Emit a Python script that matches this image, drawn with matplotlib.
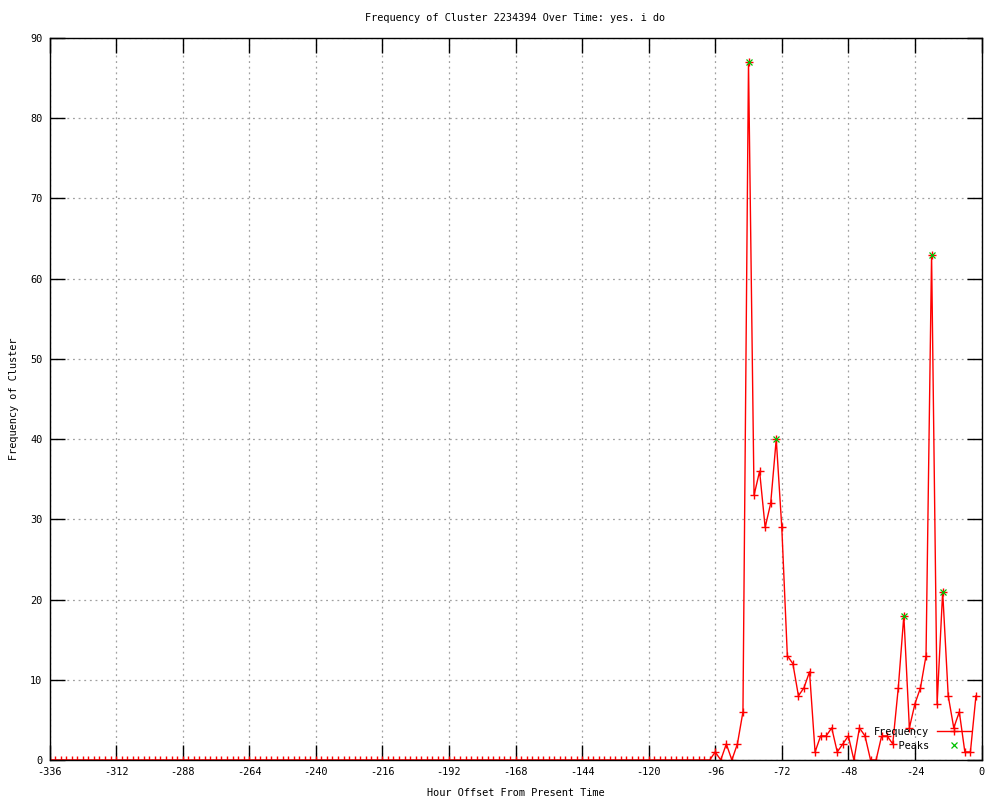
"""
Frequency of a cluster over the last two weeks, gnuplot-style line chart.
"""

import numpy as np
import matplotlib

matplotlib.use("Agg")
import matplotlib.pyplot as plt

# Hour offsets (every 2 hours) and frequency counts
hours = np.arange(-336, 0, 2)
frequency = [
    0, 0, 0, 0, 0, 0, 0, 0, 0, 0, 0, 0, 0, 0, 0, 0, 0, 0, 0, 0,
    0, 0, 0, 0, 0, 0, 0, 0, 0, 0, 0, 0, 0, 0, 0, 0, 0, 0, 0, 0,
    0, 0, 0, 0, 0, 0, 0, 0, 0, 0, 0, 0, 0, 0, 0, 0, 0, 0, 0, 0,
    0, 0, 0, 0, 0, 0, 0, 0, 0, 0, 0, 0, 0, 0, 0, 0, 0, 0, 0, 0,
    0, 0, 0, 0, 0, 0, 0, 0, 0, 0, 0, 0, 0, 0, 0, 0, 0, 0, 0, 0,
    0, 0, 0, 0, 0, 0, 0, 0, 0, 0, 0, 0, 0, 0, 0, 0, 0, 0, 0, 0,
    1, 0, 2, 0, 2, 6, 87, 33, 36, 29, 32, 40, 29, 13, 12, 8, 9, 11, 1, 3,
    3, 4, 1, 2, 3, 0, 4, 3, 0, 0, 3, 3, 2, 9, 18, 4, 7, 9, 13, 63,
    7, 21, 8, 4, 6, 1, 1, 8,
]

# Detected peaks
peak_hours = [-84, -74, -28, -18, -14]
peak_values = [87, 40, 18, 63, 21]

x_ticks = list(range(-336, 1, 24))
y_ticks = list(range(0, 91, 10))

TITLE = "Frequency of Cluster 2234394 Over Time: yes. i do"
X_LABEL = "Hour Offset From Present Time"
Y_LABEL = "Frequency of Cluster"

plt.rcParams["font.family"] = ["DejaVu Sans Mono", "DejaVu Sans"]
plt.rcParams["font.size"] = 7.4
plt.rcParams["axes.titlesize"] = 7.4
plt.rcParams["axes.labelsize"] = 7.4
plt.rcParams["legend.fontsize"] = 7.4
plt.rcParams["axes.unicode_minus"] = False

fig = plt.figure(figsize=(10, 8), dpi=100)
ax = fig.add_axes([0.0495, 0.05, 0.932, 0.9025])

# Data
ax.plot(hours, frequency, color="red", lw=1.0, marker="+", ms=5.5, mew=1.0,
        label="Frequency")
ax.plot(peak_hours, peak_values, linestyle="none", color="#00c000", marker="x",
        ms=5, mew=0.9, label="    Peaks")

# Axes
ax.set_xlim(-336, 0)
ax.set_ylim(0, 90)
ax.set_xticks(x_ticks)
ax.set_yticks(y_ticks)
ax.tick_params(direction="in", top=True, right=True, length=11, width=1,
               pad=5, colors="black")
ax.grid(True, color="#a0a0a0", lw=0.9, linestyle=(0, (1.5, 3.0)))
ax.set_axisbelow(True)
for spine in ax.spines.values():
    spine.set_linewidth(1.0)

ax.set_title(TITLE, pad=12)
ax.set_xlabel(X_LABEL, labelpad=8)
ax.set_ylabel(Y_LABEL, labelpad=8)

# Legend: text on the left like gnuplot's key; padded label keeps it right-aligned
ax.legend(loc="lower right", bbox_to_anchor=(0.996, 0.003), frameon=False,
          markerfirst=False, handlelength=3.3, handletextpad=0.7,
          labelspacing=0.35, borderpad=0.2)

fig.savefig("out.png", dpi=100)
